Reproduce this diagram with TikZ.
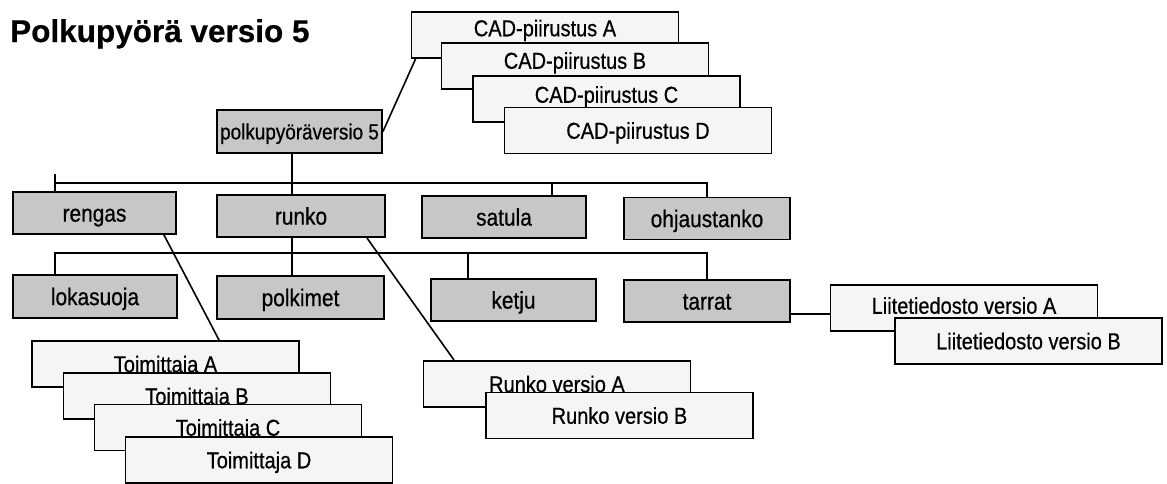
\documentclass[tikz,border=0pt]{standalone}
\usepackage{fontspec}
\setmainfont{Liberation Sans}
\newfontfamily\labelfont{Liberation Sans}[FakeStretch=0.87,FakeBold=0.6]
\newfontfamily\rootfont{Liberation Sans}[FakeStretch=0.86,FakeBold=0.6]
\newfontfamily\titlefont{Liberation Sans Bold}[FakeBold=0.5]
\usetikzlibrary{calc}

\begin{document}
\begin{tikzpicture}[x=1pt,y=-1pt,
  box/.style={draw=black, line width=1.9pt, inner sep=0pt, text depth=0pt},
  part/.style={box, fill=black!22, minimum width=165pt, minimum height=42pt,
    text height=17.2pt, font=\labelfont\fontsize{24}{24}\selectfont},
  ver/.style={box, fill=black!4, minimum width=267pt, minimum height=46pt,
    text height=16.5pt, font=\labelfont\fontsize{23}{23}\selectfont},
  link/.style={line width=1.6pt, draw=black}]

\useasboundingbox (0,0) rectangle (1167,483);

% title
\node[anchor=base west, inner sep=0pt, font=\titlefont\fontsize{31.5}{31.5}\selectfont]
  (title) at (10,42) {Polkupyörä versio 5};

% drawings of the bicycle
\node[ver, text depth=14pt] (cadA) at (545,35) {CAD-piirustus A};
\node[ver, text depth=11pt] (cadB) at (575,66) {CAD-piirustus B};
\node[ver, text depth=9pt]  (cadC) at (606.5,99) {CAD-piirustus C};
\node[ver] (cadD) at (638,130.5) {CAD-piirustus D};

% root item
\node[part, minimum width=165pt, minimum height=43pt, text height=15.8pt,
  font=\rootfont\fontsize{22}{22}\selectfont] (root) at (299.5,131.5) {polkupyöräversio 5};

% first level
\node[part, minimum width=163pt] (rengas) at (94.5,213) {rengas};
\node[part, minimum width=168pt] (runko)  at (301,216) {runko};
\node[part, minimum width=164pt] (satula) at (504,217) {satula};
\node[part, minimum width=166pt] (ohjaus) at (707,218.5) {ohjaustanko};

% second level
\node[part, minimum width=164pt, minimum height=43pt] (loka) at (95,296.5) {lokasuoja};
\node[part, minimum width=167pt, minimum height=43pt] (polk) at (300.5,297.5) {polkimet};
\node[part, minimum width=165pt] (ketju)  at (513.5,300) {ketju};
\node[part, minimum width=166pt] (tarrat) at (707,301) {tarrat};

% suppliers
\node[ver] (toimA) at (165.5,364) {Toimittaja A};
\node[ver] (toimB) at (197,396) {Toimittaja B};
\node[ver] (toimC) at (228,427.5) {Toimittaja C};
\node[ver] (toimD) at (259,460) {Toimittaja D};

% frame versions
\node[ver] (rvA) at (557,384) {Runko versio A};
\node[ver] (rvB) at (619.5,415.5) {Runko versio B};

% attachment versions
\node[ver, text depth=5pt] (liiteA) at (964,308) {Liitetiedosto versio A};
\node[ver] (liiteB) at (1028.5,341) {Liitetiedosto versio B};

% connectors
\coordinate (bus1) at (55,183);
\coordinate (bus2) at (55,253);
\coordinate (spine) at (292,0);
\coordinate (sat) at ($(satula.north)+(48,0)$);
\coordinate (ket) at ($(ketju.north)+(-45.5,0)$);
\coordinate (tr) at ($(tarrat.south east)+(0,-9)$);

\draw[link] (root.east) -- ($(cadA.south west)+(5,0)$);

\draw[link] (bus1 |- rengas.north) -- ++(0,-17);
\draw[link] (bus1) -- (bus1 -| ohjaus.north) -- (ohjaus.north);
\draw[link] (spine |- root.south) -- (spine |- runko.north);
\draw[link] (sat |- bus1) -- (sat);

\draw[link] (bus2 |- loka.north) -- (bus2) -- (bus2 -| tarrat.north) -- (tarrat.north);
\draw[link] (spine |- runko.south) -- (spine |- polk.north);
\draw[link] (ket |- bus2) -- (ket);

\draw[link] ($(rengas.south east)+(-13,0)$) -- ($(toimA.north west)+(188,0)$);
\draw[link] ($(runko.south east)+(-19,0)$) -- ($(rvA.north west)+(31.5,0)$);
\draw[link] (tr) -- (tr -| liiteA.west);
\end{tikzpicture}
\end{document}
